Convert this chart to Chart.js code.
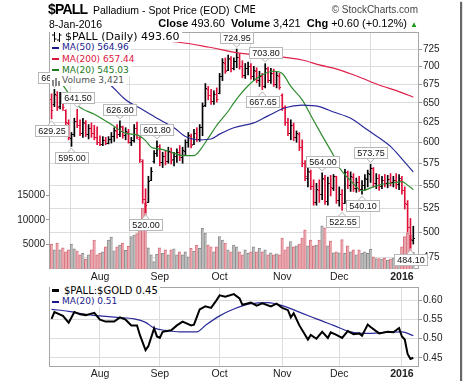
<!DOCTYPE html>
<html>
<head>
<meta charset="utf-8">
<title>$PALL Palladium - Spot Price (EOD)</title>
<script src="https://cdn.jsdelivr.net/npm/chart.js@4.4.1/dist/chart.umd.min.js"></script>
<style>
  body { margin: 0; background: #fff; }
  #wrap { position: relative; width: 460px; height: 381px; background: #fff; box-shadow: 2px 2px 1px #666; font-family: "Liberation Sans", Arial, sans-serif; color: #000; }
  .t { position: absolute; white-space: nowrap; line-height: 1; }
  canvas { position: absolute; left: 0; }
  .lg { position: absolute; left: 50px; height: 11px; line-height: 11px; white-space: nowrap; background: #fff; font-family: "DejaVu Sans", sans-serif; font-size: 9px; padding-right: 2px; }
  .lg i { position: absolute; left: 2px; top: 4.5px; width: 7px; height: 2px; }
</style>
</head>
<body>
<div id="wrap">
  <canvas id="main" width="464" height="284" style="top:0"></canvas>
  <canvas id="ratio" width="464" height="107" style="top:280px"></canvas>

  <div class="t" style="left:48px;top:2px;font-size:14px;font-weight:bold;letter-spacing:-0.8px">$PALL</div>
  <div class="t" style="left:93px;top:5px;font-size:10.5px">Palladium - Spot Price (EOD)</div>
  <div class="t" style="left:234px;top:5px;font-size:10px;font-family:'DejaVu Sans'">CME</div>
  <div class="t" style="right:42px;top:5px;font-size:10px;color:#444">© StockCharts.com</div>
  <div class="t" style="left:49px;top:19px;font-size:10.5px">8-Jan-2016</div>
  <div class="t" style="right:42px;top:18px;font-size:11px"><b>Close</b> 493.60 &nbsp;<b>Volume</b> 3,421 &nbsp;<b>Chg</b> +0.60 (+0.12%) <span style="color:#1a9a1a;font-size:8px">▲</span></div>

  <div class="lg" style="top:31px;padding-left:15px;font-size:11px">
    <svg style="position:absolute;left:2px;top:1px" width="10" height="10"><path d="M2.5 0v10M0 3h2.5M2.5 7h2M7.5 1v9M5 8h2.5M7.5 3h2" stroke="#000" fill="none"/></svg>$PALL (Daily) 493.60</div>
  <div class="lg" style="top:42px;padding-left:12px;color:#1a1a8c"><i style="background:#1a1a8c"></i>MA(50) 564.96</div>
  <div class="lg" style="top:53.5px;padding-left:12px;color:#dc143c"><i style="background:#dc143c"></i>MA(200) 657.44</div>
  <div class="lg" style="top:64.5px;padding-left:12px;color:#1b7a1b"><i style="background:#1b7a1b"></i>MA(20) 545.03</div>
  <div class="lg" style="top:74.5px;padding-left:12px;color:#555">
    <svg style="position:absolute;left:1px;top:2px" width="10" height="9"><path d="M1 3h2v6H1zM4 1h2v8H4zM7 4h2v5H7z" fill="#888"/></svg>Volume 3,421</div>

  <div class="lg" style="top:285px;padding-left:14px;font-size:10px"><i style="background:#000;height:3px;top:4px"></i>$PALL:$GOLD 0.45</div>
  <div class="lg" style="top:296px;padding-left:12px;color:#1a1a8c"><i style="background:#1a1a8c"></i>MA(20) 0.51</div>
</div>

<script>
// daily bars, index = trading day (0 = 9-Jul-2015, 127 = 8-Jan-2016)
const opens = [655,648,660,646,656,640,624,605,610,626,
  621,612,624,610,617,612,606,600,598,603,
  599,604,608,614,610,619,609,613,600,603,
  617,604,578,535,531,556,578,587,595,576,
  583,578,588,580,584,588,582,590,600,608,
  598,611,604,619,647,668,660,652,662,663,
  686,705,695,711,697,708,713,700,688,697,
  701,686,694,681,686,673,696,681,690,676,
  687,660,644,625,612,621,606,610,594,575,
  558,565,549,532,545,540,557,533,552,547,
  560,534,540,530,565,550,559,547,553,546,
  550,557,563,569,552,558,549,556,552,557,
  553,556,551,556,545,529,505,492];
const highs = [662,668,665,664,662,641,628,612,630,641.5,
  628,630,627,622,624,621,619,608,607,606,
  607,612,618,622,626.8,620,618,616,606,622,
  625,606,579,546,560,570,590,601.8,597,588,
  590,594,593,588,592,596,594,603,612,610,
  616,618,622,650,676,672,668,666,670,690,
  711,712,716,714,712,724.95,718,708,704,706,
  704,700,698,693,690,703.8,699,697,696,692,
  690,662,646,630,628,624,614,612,603,578,
  570,567,556,552,556,564,561,559,561,562,
  560,548,545,568,566,565,563,558,560,555,
  562,567,573.75,570,563,562,560,562,561,563,
  560,563,562,560,548,533,514,506];
const lows = [629.25,645,640,642,640,622,603,595,607,618,
  608,606,607,604,606,603,597,596,596,597,
  598,599,601,605,607,605,603,599,596,600,
  604,576,530,520,531,555,575,583,572,570,
  573,575,574,572,576,578,575,585,594,593,
  597,601,601,608,645,654,648,648,651,662,
  680,690,694,692,695,698,696,684,683,688,
  682,680,677,672,667.65,670,677,676,672,670,
  668,640,621,608,603,602,600,590,571,555,
  548,545,528,528,531,534,529,528,538,544,
  530,527,522.55,530,546,543,543,542,543,540.1,
  544,548,553,548,546,544,546,548,547,549,
  548,546,545,540,524,500,484.1,488];
const closes = [640,662,645,658,644,625,606,610,627,622,
  612,625,610,617,612,606,600,598,603,599,
  604,608,615,610,620,609,614,600,603,618,
  606,580,535,528,555,566,587,596,576,583,
  578,589,579,584,588,582,591,600,609,597,
  612,604,619,646,670,660,652,662,655,686,
  706,694,712,697,708,714,700,688,698,701,
  686,695,681,686,672,697,681,690,676,688,
  671,645,625,612,622,606,611,594,575,560,
  566,549,532,546,540,558,533,552,548,560,
  534,540,530,565,550,560,547,553,546,550,
  558,564,570,552,558,549,556,552,557,553,
  556,551,558,545,530,505,493,493.6];
const volumes = [5100,3900,5300,3900,4300,3500,3900,5100,4100,3700,
  2900,3200,2000,2900,3900,5900,2900,3200,3500,4500,
  5900,6500,3700,4500,4900,5300,3800,4600,6600,6900,
  7200,10000,12400,13500,4300,2900,1500,3000,4300,3200,
  3900,2900,3900,4100,2900,3500,2900,3500,2500,4200,
  3600,4900,4200,8300,7300,4900,4500,3500,4500,6600,
  5900,5300,3900,3500,4900,4500,3500,2900,3900,3200,
  3500,4500,3500,4200,3500,3900,2900,3300,2900,3100,
  2900,6300,3900,4500,5600,4500,4700,5100,6300,8000,
  4700,5900,4700,4900,5900,8800,8400,4700,5700,3300,
  3500,3300,6000,3200,4700,3500,3900,2900,3900,3200,
  3500,3200,4000,2500,2100,2100,2000,2200,1800,2000,
  2200,2100,1800,4500,6600,7300,6900,3421];

// moving averages (day index, value)
const ma20Idx = [0,4,9,15,21,26,30,33,35,38,43,46,50,52,55,58,62,64,66,69,74,78,81,84,88,92,96,99,101,105,109,113,116,121,123,125,127];
const ma20Val = [690,673.6,647,635,622,611,609,602,594,592,587,584,584,590,605,621,639,650,660,673,688,693,690,672,654,627,602,584,570,555,544,548,551,553,554,550,545.03];
const ma50Idx = [0,10,20,26,32,38,43,47,52,56,59,64,71,76,82,88,94,99,105,111,119,123,127];
const ma50Val = [712,694,676,654,641,628,618,607,603,604,610,618,624,633,643.5,647,645,638,630,615,595,580,564.96];
const ma200Idx = [20,44,55,66,80,88,94,101,108,115,122,127];
const ma200Val = [742,735.4,728,719,714,709,702,695,685,674,665,657.44];

// $PALL:$GOLD ratio panel
const ratioIdx = [0,1,4,6,8,10,12,15,17,19,22,24,26,28,30,31,33,34,36,37,38,39,42,44,46,49,50,52,54,56,58,59,61,64,66,67,70,72,74,77,79,81,83,84,85,87,90,91,93,95,97,98,100,102,104,106,108,109,111,112,115,118,120,122,123,124,125,126,127];
const ratioVal = [0.552,0.570,0.560,0.542,0.570,0.564,0.562,0.568,0.550,0.545,0.545,0.556,0.550,0.535,0.535,0.510,0.470,0.481,0.527,0.506,0.502,0.518,0.522,0.535,0.545,0.535,0.537,0.577,0.585,0.581,0.602,0.614,0.610,0.617,0.606,0.589,0.595,0.587,0.593,0.585,0.592,0.581,0.575,0.556,0.567,0.535,0.498,0.510,0.500,0.518,0.502,0.517,0.510,0.502,0.520,0.512,0.514,0.508,0.537,0.531,0.514,0.518,0.517,0.528,0.506,0.498,0.460,0.447,0.450];
const ratioMaIdx = [0,6,12,17,23,29,33,36,40,45,51,54,59,64,70,76,81,87,93,99,105,111,117,123,127];
const ratioMaVal = [0.577,0.572,0.564,0.560,0.556,0.552,0.543,0.528,0.522,0.518,0.518,0.535,0.560,0.578,0.592,0.595,0.587,0.570,0.552,0.535,0.518,0.514,0.517,0.518,0.508];

const priceTicks = [475,500,525,550,575,600,625,650,675,700,725];
const volTicks = [5000,10000,15000];
const ratioTicks = [0.45,0.50,0.55,0.60];
const monthIdx = [17,38,59,81,101,123];
const monthNames = ['Aug','Sep','Oct','Nov','Dec','2016'];

// high/low callouts
const hiLoIdx = [1,0,9,7,24,33,37,65,74,75,95,102,109,112,126];
const hiLoKind = ['H','L','H','L','H','L','H','H','L','H','H','L','L','H','L'];

Chart.defaults.font.family = '"Liberation Sans", Arial, sans-serif';
Chart.defaults.color = '#222';

const red = '#e0103a';
const gridColor = '#dcdcdc';
const xMin = -0.9, xMax = 129;

function isDown(i) {
  const prev = i ? closes[i - 1] : opens[0];
  return closes[i] < prev;
}
const pts = (xs, ys) => xs.map((x, k) => ({ x: x, y: ys[k] }));

const frame = {
  id: 'frame',
  beforeDatasetsDraw(chart) {
    const a = chart.chartArea, ctx = chart.ctx;
    ctx.save();
    ctx.strokeStyle = '#a6a6a6';
    ctx.lineWidth = 1;
    ctx.strokeRect(a.left + 0.5, a.top + 0.5, a.width - 1, a.height - 1);
    ctx.restore();
  }
};

const ohlc = {
  id: 'ohlc',
  afterDatasetsDraw(chart) {
    const ctx = chart.ctx, xs = chart.scales.x, ys = chart.scales.y;
    ctx.save();
    ctx.lineWidth = 1;
    closes.forEach((c, i) => {
      const px = xs.getPixelForValue(i);
      const yo = Math.round(ys.getPixelForValue(opens[i])) + 0.5;
      const yc = Math.round(ys.getPixelForValue(c)) + 0.5;
      ctx.strokeStyle = isDown(i) ? red : '#000';
      ctx.beginPath();
      ctx.moveTo(px - 1.6, yo); ctx.lineTo(px, yo);
      ctx.moveTo(px, yc); ctx.lineTo(px + 1.6, yc);
      ctx.stroke();
    });

    ctx.font = '9px "Liberation Sans"';
    ctx.textAlign = 'center';
    ctx.textBaseline = 'middle';
    hiLoIdx.forEach((i, k) => {
      const high = hiLoKind[k] === 'H';
      const v = high ? highs[i] : lows[i];
      const txt = v.toFixed(2);
      const px = xs.getPixelForValue(i), py = ys.getPixelForValue(v);
      const w = Math.round(ctx.measureText(txt).width) + 5, h = 11;
      const bx = Math.round(px - w / 2) + 0.5;
      const by = high ? Math.round(py - 6 - h) + 0.5 : Math.round(py + 6) + 0.5;
      const edge = high ? by + h : by;
      ctx.fillStyle = '#fff';
      ctx.strokeStyle = '#b8b8b8';
      ctx.beginPath();
      ctx.moveTo(px - 4, edge);
      ctx.lineTo(px, high ? py - 2 : py + 2);
      ctx.lineTo(px + 4, edge);
      ctx.closePath();
      ctx.fill(); ctx.stroke();
      ctx.fillRect(bx, by, w, h);
      ctx.strokeRect(bx, by, w, h);
      ctx.fillStyle = '#111';
      ctx.fillText(txt, bx + w / 2, by + h / 2 + 0.5);
    });
    ctx.restore();
  }
};

function monthAxis(height, pad) {
  return {
    type: 'linear', min: xMin, max: xMax, offset: false,
    afterBuildTicks: s => { s.ticks = monthIdx.map(v => ({ value: v })); },
    afterFit: s => { s.height = height; },
    ticks: {
      autoSkip: false, maxRotation: 0, padding: pad, color: '#222',
      font: c => ({ size: 10.5, weight: c.tick && c.tick.value === monthIdx[monthIdx.length - 1] ? 'bold' : 'normal' }),
      callback: v => monthNames[monthIdx.indexOf(v)]
    },
    grid: { color: gridColor, drawTicks: false },
    border: { display: false }
  };
}

new Chart(document.getElementById('main'), {
  type: 'bar',
  data: {
    datasets: [
      { type: 'line', label: 'MA(50)', data: pts(ma50Idx, ma50Val), yAxisID: 'y', order: 0,
        borderColor: '#2a2a9a', borderWidth: 1.2, pointRadius: 0, cubicInterpolationMode: 'monotone' },
      { type: 'line', label: 'MA(200)', data: pts(ma200Idx, ma200Val), yAxisID: 'y', order: 0,
        borderColor: '#e0204a', borderWidth: 1.2, pointRadius: 0, cubicInterpolationMode: 'monotone' },
      { type: 'line', label: 'MA(20)', data: pts(ma20Idx, ma20Val), yAxisID: 'y', order: 0,
        borderColor: '#2e8b2e', borderWidth: 1.2, pointRadius: 0, cubicInterpolationMode: 'monotone' },
      { type: 'bar', label: '$PALL', data: highs.map((h, i) => ({ x: i, y: [lows[i], h] })), yAxisID: 'y', order: 1,
        backgroundColor: closes.map((c, i) => isDown(i) ? red : '#000'), barThickness: 1, grouped: false },
      { type: 'bar', label: 'Volume', data: volumes.map((v, i) => ({ x: i, y: v })), yAxisID: 'yVol', order: 2,
        backgroundColor: closes.map((c, i) => isDown(i) ? '#eba6ae' : '#bcbcbc'),
        borderColor: closes.map((c, i) => isDown(i) ? '#d4727e' : '#8c8c8c'),
        borderWidth: { top: 1, left: 1, right: 0, bottom: 0 },
        barPercentage: 1, categoryPercentage: 1, grouped: false }
    ]
  },
  options: {
    responsive: false, animation: false, devicePixelRatio: 1,
    layout: { padding: { top: 32, left: 0, right: 0, bottom: 0 }, autoPadding: false },
    plugins: { legend: { display: false }, tooltip: { enabled: false } },
    scales: {
      x: monthAxis(15, 2),
      y: {
        type: 'logarithmic', position: 'right', min: 463.9, max: 750.5,
        afterBuildTicks: s => { s.ticks = priceTicks.map(v => ({ value: v })); },
        afterFit: s => { s.width = 45; },
        ticks: { padding: 1, color: '#222', font: { size: 10 }, callback: v => String(v) },
        grid: { color: gridColor, tickLength: 3, tickColor: '#999' },
        border: { display: false }
      },
      yVol: {
        type: 'linear', position: 'left', min: 0, max: 48300,
        afterBuildTicks: s => { s.ticks = volTicks.map(v => ({ value: v })); },
        afterFit: s => { s.width = 49; },
        ticks: { padding: 1, color: '#222', font: { size: 10 }, callback: v => String(v) },
        grid: { drawOnChartArea: false, tickLength: 3, tickColor: '#999' },
        border: { display: false }
      }
    }
  },
  plugins: [frame, ohlc]
});

new Chart(document.getElementById('ratio'), {
  type: 'line',
  data: {
    datasets: [
      { label: '$PALL:$GOLD', data: pts(ratioIdx, ratioVal), borderColor: '#000', borderWidth: 2, pointRadius: 0, tension: 0 },
      { label: 'MA(20)', data: pts(ratioMaIdx, ratioMaVal), borderColor: '#2a2a9a', borderWidth: 1.2, pointRadius: 0, cubicInterpolationMode: 'monotone' }
    ]
  },
  options: {
    responsive: false, animation: false, devicePixelRatio: 1,
    layout: { padding: { top: 3, left: 49, right: 0, bottom: 0 }, autoPadding: false },
    plugins: { legend: { display: false }, tooltip: { enabled: false } },
    scales: {
      x: monthAxis(20, 1),
      y: {
        type: 'linear', position: 'right', min: 0.4258, max: 0.6358,
        afterBuildTicks: s => { s.ticks = ratioTicks.map(v => ({ value: v })); },
        afterFit: s => { s.width = 45; },
        ticks: { padding: 1, color: '#222', font: { size: 10 }, callback: v => v.toFixed(2) },
        grid: { color: gridColor, tickLength: 3, tickColor: '#999' },
        border: { display: false }
      }
    }
  },
  plugins: [frame]
});
</script>
</body>
</html>
